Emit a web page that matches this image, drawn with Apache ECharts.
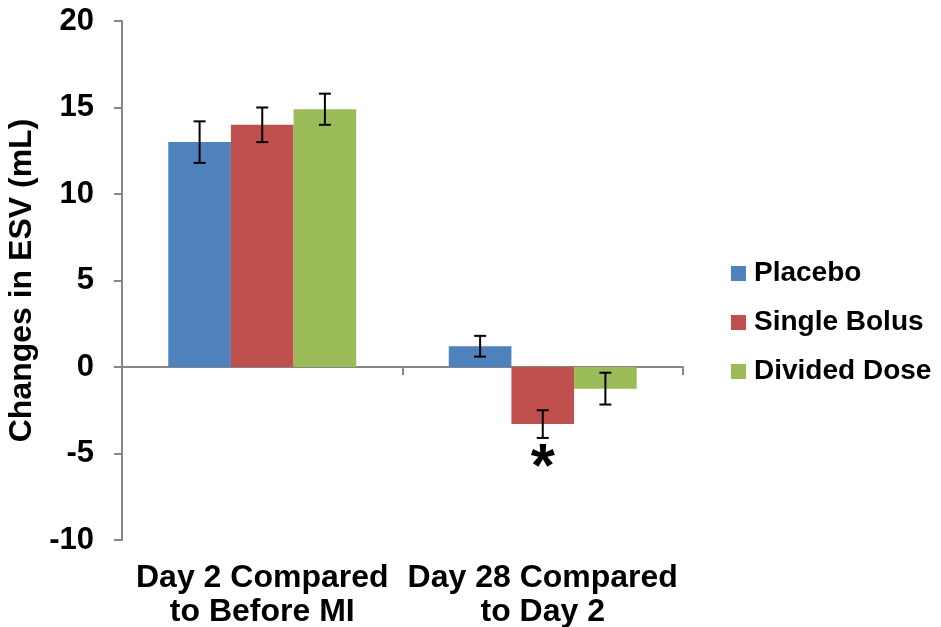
<!DOCTYPE html>
<html><head><meta charset="utf-8">
<script src="https://cdn.jsdelivr.net/npm/echarts@6/dist/echarts.min.js"></script>
<style>html,body{margin:0;padding:0;background:#fff}#c{width:941px;height:627px}</style>
</head><body><div id="c"></div>
<script>
var categories = ['Day 2 Compared\nto Before MI', 'Day 28 Compared\nto Day 2'];
var seriesNames = ['Placebo', 'Single Bolus', 'Divided Dose'];
var placebo = [13.0, 1.2];
var singleBolus = [14.0, -3.3];
var dividedDose = [14.9, -1.25];
var placeboErr = [1.2, 0.6];
var singleBolusErr = [1.0, 0.8];
var dividedDoseErr = [0.9, 0.92];
var yTicks = [-10, -5, 0, 5, 10, 15, 20];
var asteriskValue = -5.1;
var colors = ['#4F81BD', '#C0504D', '#9BBB59'];
var values = [placebo, singleBolus, dividedDose];
var errs = [placeboErr, singleBolusErr, dividedDoseErr];
var gapPct = 0.33;

var chart = echarts.init(document.getElementById('c'));
var font = 'Liberation Sans, Arial, sans-serif';
var series = [];
values.forEach(function (vals, i) {
  series.push({
    name: seriesNames[i], type: 'bar', data: vals, barGap: '0%', barCategoryGap: (gapPct*100)+'%',
    itemStyle: { color: colors[i] }, xAxisIndex: 0
  });
});
values.forEach(function (vals, i) {
  series.push({
    type: 'custom', xAxisIndex: 0, silent: true, z: 5,
    data: vals.map(function (v, k) { return [k, v - errs[i][k], v + errs[i][k]]; }),
    renderItem: function (params, api) {
      var band = api.size([1, 0])[0];
      var bw = band * (1 - gapPct) / 3;
      var off = (i - 1) * bw;
      var lo = api.coord([api.value(0), api.value(1)]);
      var hi = api.coord([api.value(0), api.value(2)]);
      var x = lo[0] + off, cw = 6;
      var st = { stroke: '#000', lineWidth: 2 };
      return { type: 'group', children: [
        { type: 'line', shape: { x1: x, y1: lo[1], x2: x, y2: hi[1] }, style: st },
        { type: 'line', shape: { x1: x - cw, y1: lo[1], x2: x + cw, y2: lo[1] }, style: st },
        { type: 'line', shape: { x1: x - cw, y1: hi[1], x2: x + cw, y2: hi[1] }, style: st }
      ]};
    }
  });
});
// significance asterisk (under Single Bolus, day 28)
series.push({
  type: 'custom', xAxisIndex: 0, silent: true, z: 6,
  data: [[1, asteriskValue]],
  renderItem: function (params, api) {
    var p = api.coord([api.value(0), api.value(1)]);
    return { type: 'text', x: p[0], y: p[1] + 14,
      style: { text: '*', fill: '#000', font: 'bold 62px ' + font, align: 'center', verticalAlign: 'middle' } };
  }
});

chart.setOption({
  animation: false,
  color: colors,
  grid: { left: 122, right: 258, top: 21, bottom: 87, containLabel: false, outerBoundsMode: 'none' },
  legend: {
    orient: 'vertical', left: 726, top: 253, itemWidth: 15, itemHeight: 15, itemGap: 18,
    icon: 'rect', data: seriesNames,
    textStyle: { fontSize: 28, fontWeight: 'bold', fontFamily: font, color: '#000', lineHeight: 31, padding: [0,0,0,3] }
  },
  xAxis: [
    { type: 'category', data: categories, position: 'bottom',
      axisLine: { onZero: true, lineStyle: { color: '#868686', width: 2 } },
      axisTick: { show: true, length: 8, lineStyle: { color: '#868686', width: 2 } },
      axisLabel: { show: false }, splitLine: { show: false } },
    { type: 'category', data: categories, position: 'bottom',
      axisLine: { show: false, onZero: false }, axisTick: { show: false },
      axisLabel: { show: true, interval: 0, margin: 21, fontSize: 32, fontWeight: 'bold', fontFamily: font,
        color: '#000', lineHeight: 34, align: 'center' } }
  ],
  yAxis: {
    type: 'value', min: yTicks[0], max: yTicks[yTicks.length - 1], interval: 5,
    name: 'Changes in ESV (mL)', nameLocation: 'middle', nameGap: 79,
    nameTextStyle: { fontSize: 32, fontWeight: 'bold', fontFamily: font, color: '#000' },
    axisLine: { show: true, lineStyle: { color: '#868686', width: 2 } },
    axisTick: { show: true, length: 8, lineStyle: { color: '#868686', width: 2 } },
    axisLabel: { margin: 28, fontSize: 31, fontWeight: 'bold', fontFamily: font, color: '#000' },
    splitLine: { show: false }
  },
  series: series
});
</script></body></html>
